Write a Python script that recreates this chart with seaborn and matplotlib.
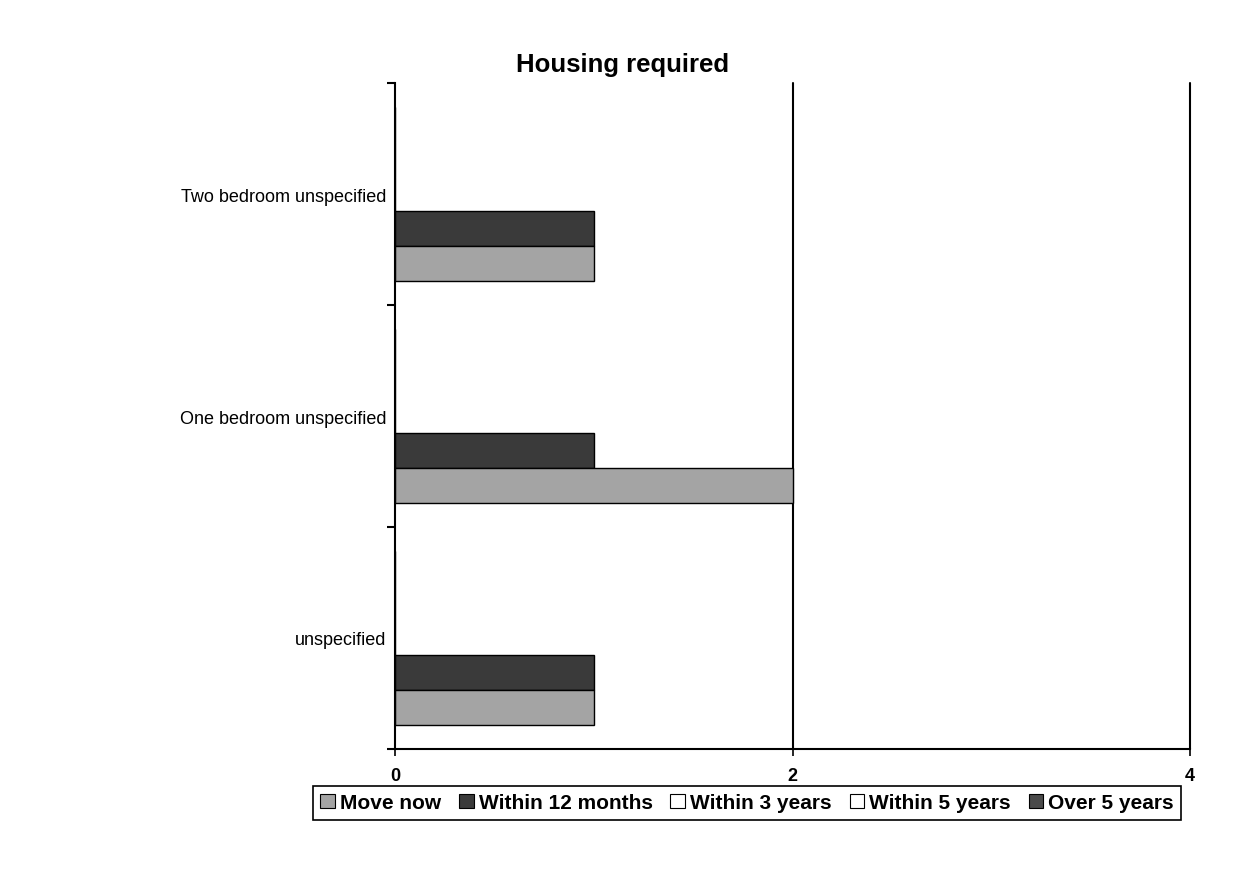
import matplotlib
matplotlib.use("Agg")
import matplotlib.pyplot as plt
import seaborn as sns
import pandas as pd
from matplotlib.patches import Patch

# Housing need by timeframe
categories = ["Two bedroom unspecified", "One bedroom unspecified", "unspecified"]
series = ["Move now", "Within 12 months", "Within 3 years", "Within 5 years", "Over 5 years"]
move_now = [1, 2, 1]
within_12_months = [1, 1, 1]
within_3_years = [0, 0, 0]
within_5_years = [0, 0, 0]
over_5_years = [0, 0, 0]
x_ticks = [0, 2, 4]
colors = ["#a4a4a4", "#3a3a3a", "#ffffff", "#ffffff", "#4a4a4a"]

sns.set_theme(style="white")
plt.rcParams["font.family"] = ["Liberation Sans", "DejaVu Sans"]
plt.rcParams["text.color"] = "black"
plt.rcParams["xtick.color"] = "black"
plt.rcParams["ytick.color"] = "black"

values = [move_now, within_12_months, within_3_years, within_5_years, over_5_years]
rows = []
for name, vals in zip(series, values):
    for cat, v in zip(categories, vals):
        rows.append({"category": cat, "period": name, "count": v})
df = pd.DataFrame(rows)
palette = dict(zip(series, colors))

fig = plt.figure(figsize=(12.33, 8.78), dpi=100)
ax = fig.add_axes([0.3204, 0.1458, 0.6447, 0.7585])

# first series sits at the bottom of each group
sns.barplot(data=df, y="category", x="count", hue="period",
            order=categories, hue_order=series[::-1], palette=palette,
            width=0.78, edgecolor="black", linewidth=1.0, saturation=1,
            legend=False, ax=ax)

ax.set_xlim(0, 4)
ax.set_ylim(2.5, -0.5)
ax.set_xlabel("")
ax.set_ylabel("")
ax.set_facecolor("white")

for side in ["top", "right"]:
    ax.spines[side].set_visible(False)
for side in ["left", "bottom"]:
    ax.spines[side].set_color("black")
    ax.spines[side].set_linewidth(1.5)

for xv in x_ticks[1:]:
    ax.axvline(xv, color="black", linewidth=1.5, zorder=0.5, clip_on=False)

ax.set_xticks(x_ticks)
ax.set_xticklabels([str(t) for t in x_ticks], fontsize=13, fontweight="bold")
ax.tick_params(axis="x", direction="out", length=5, width=1.2, color="black",
               labelcolor="black", pad=8, bottom=True)

ax.set_yticks([-0.5, 0.5, 1.5, 2.5])
ax.set_yticklabels([])
ax.set_yticks([0, 1, 2], minor=True)
ax.set_yticklabels(categories, minor=True, fontsize=13)
ax.tick_params(axis="y", which="major", direction="out", length=6, width=1.5, color="black", left=True)
ax.tick_params(axis="y", which="minor", length=0, pad=6, left=True, labelcolor="black")
for lbl in ax.get_yticklabels(minor=True):
    lbl.set_verticalalignment("center_baseline")

fig.text(0.505, 0.926, "Housing required", ha="center", va="center",
         fontsize=18.5, fontweight="bold", color="black")

handles = [Patch(facecolor=c, edgecolor="black", linewidth=0.8) for c in colors]
leg = fig.legend(handles, series, ncol=5, loc="center", bbox_to_anchor=(0.606, 0.0845),
                 frameon=True, fancybox=False, edgecolor="black", framealpha=1,
                 prop={"weight": "bold", "size": 15}, handlelength=0.7, handleheight=0.7,
                 handletextpad=0.25, columnspacing=0.85, borderpad=0.35)
leg.get_frame().set_linewidth(1.2)
for t in leg.get_texts():
    t.set_color("black")

fig.savefig("out.png", dpi=100, facecolor="white")
